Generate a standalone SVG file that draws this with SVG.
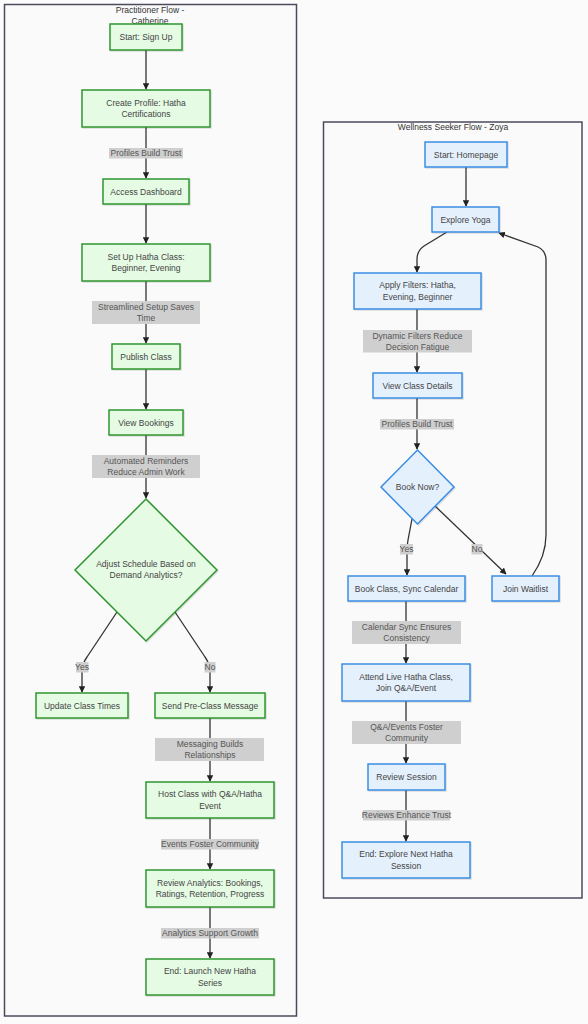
<svg xmlns="http://www.w3.org/2000/svg" width="588" height="1024" viewBox="0 0 588 1024">
<defs>
<style>
text{font-family:"Liberation Sans",Arial,sans-serif;font-size:8.5px;fill:#444;text-anchor:middle;dominant-baseline:central}
.cl{fill:#fafafa;stroke:#4b4b5e;stroke-width:1.5}
.ct{fill:#333}
.g{fill:#e6fbe4;stroke:#2f962f;stroke-width:1.5}
.b{fill:#e4f0fc;stroke:#3b8de3;stroke-width:1.5}
.e{fill:none;stroke:#333;stroke-width:1.3}
.lb{fill:#cfcfcf}
.lt{fill:#555}
</style>
<marker id="ah" viewBox="0 0 10 10" refX="9" refY="5" markerWidth="5" markerHeight="5" orient="auto">
<path d="M0,0 L10,5 L0,10 z" fill="#222"/>
</marker>
<filter id="sh" x="-10%" y="-10%" width="130%" height="140%">
<feDropShadow dx="1" dy="1" stdDeviation="0.6" flood-color="#000" flood-opacity="0.12"/>
</filter>
</defs>
<rect width="588" height="1024" fill="#fbfbfb"/>

<g id="cluster-practitioner">
<rect class="cl" x="4.5" y="4.5" width="292" height="1011.5"/>
<text class="ct" x="150" y="10">Practitioner Flow -</text>
<text class="ct" x="150" y="21">Catherine</text>
</g>
<g id="cluster-seeker">
<rect class="cl" x="323.5" y="122" width="258.5" height="776"/>
<text class="ct" x="453" y="127">Wellness Seeker Flow - Zoya</text>
</g>

<g id="connectors">
<path class="e" d="M146,50 L146,89" marker-end="url(#ah)"/>
<path class="e" d="M146,127 L146,178" marker-end="url(#ah)"/>
<path class="e" d="M146,204 L146,243" marker-end="url(#ah)"/>
<path class="e" d="M146,281 L146,343" marker-end="url(#ah)"/>
<path class="e" d="M146,369 L146,409" marker-end="url(#ah)"/>
<path class="e" d="M146,435 L146,498" marker-end="url(#ah)"/>
<path class="e" d="M117,612 L87,657 Q82,664 82,672 L82,692" marker-end="url(#ah)"/>
<path class="e" d="M175,612 L205,657 Q210,664 210,672 L210,692" marker-end="url(#ah)"/>
<path class="e" d="M210,718 L210,781" marker-end="url(#ah)"/>
<path class="e" d="M210,818 L210,869" marker-end="url(#ah)"/>
<path class="e" d="M210,907 L210,958" marker-end="url(#ah)"/>

<path class="e" d="M466,167 L466,206" marker-end="url(#ah)"/>
<path class="e" d="M447,232 L424,246 Q417,251 417,259 L417,272" marker-end="url(#ah)"/>
<path class="e" d="M417,309 L417,372" marker-end="url(#ah)"/>
<path class="e" d="M417,398 L417,449" marker-end="url(#ah)"/>
<path class="e" d="M412,519 L408,540 Q407,545 407,552 L407,575" marker-end="url(#ah)"/>
<path class="e" d="M435,506 L506,574" marker-end="url(#ah)"/>
<path class="e" d="M532,576 Q546,556 546,535 L546,260 Q546,251 538,247 L499,233" marker-end="url(#ah)"/>
<path class="e" d="M406,601 L406,663" marker-end="url(#ah)"/>
<path class="e" d="M406,701 L406,763" marker-end="url(#ah)"/>
<path class="e" d="M406,790 L406,841" marker-end="url(#ah)"/>
</g>

<g id="edge-labels">
<rect class="lb" x="109" y="148" width="74" height="10.5"/><text class="lt" x="146" y="153.3">Profiles Build Trust</text>
<rect class="lb" x="92" y="301" width="108" height="23"/><text class="lt" x="146" y="307">Streamlined Setup Saves</text><text class="lt" x="146" y="318.3">Time</text>
<rect class="lb" x="92" y="455" width="108" height="23"/><text class="lt" x="146" y="461">Automated Reminders</text><text class="lt" x="146" y="472.3">Reduce Admin Work</text>
<rect class="lb" x="76" y="662" width="12.5" height="10.5"/><text class="lt" x="82" y="667.3">Yes</text>
<rect class="lb" x="204.5" y="662" width="11" height="10.5"/><text class="lt" x="210" y="667.3">No</text>
<rect class="lb" x="155" y="738" width="109" height="23"/><text class="lt" x="210" y="744">Messaging Builds</text><text class="lt" x="210" y="755.3">Relationships</text>
<rect class="lb" x="161" y="839" width="98" height="10.5"/><text class="lt" x="210" y="844.3">Events Foster Community</text>
<rect class="lb" x="161" y="928" width="98" height="10.5"/><text class="lt" x="210" y="933.3">Analytics Support Growth</text>

<rect class="lb" x="363" y="330" width="109" height="22.5"/><text class="lt" x="417.5" y="335.5">Dynamic Filters Reduce</text><text class="lt" x="417.5" y="346.8">Decision Fatigue</text>
<rect class="lb" x="380" y="419" width="74" height="10.5"/><text class="lt" x="417" y="424.3">Profiles Build Trust</text>
<rect class="lb" x="400" y="544" width="13" height="10.5"/><text class="lt" x="406.5" y="549.3">Yes</text>
<rect class="lb" x="471.5" y="544" width="11" height="10.5"/><text class="lt" x="477" y="549.3">No</text>
<rect class="lb" x="352" y="621" width="109" height="23"/><text class="lt" x="406.5" y="627">Calendar Sync Ensures</text><text class="lt" x="406.5" y="638.3">Consistency</text>
<rect class="lb" x="352" y="721" width="109" height="23"/><text class="lt" x="406.5" y="727">Q&amp;A/Events Foster</text><text class="lt" x="406.5" y="738.3">Community</text>
<rect class="lb" x="363" y="810" width="87" height="10.5"/><text class="lt" x="406.5" y="815.3">Reviews Enhance Trust</text>
</g>

<g id="start-signup"><rect class="g" filter="url(#sh)" x="110" y="24" width="72" height="26"/><text x="146" y="37">Start: Sign Up</text></g>
<g id="create-profile"><rect class="g" filter="url(#sh)" x="82" y="90" width="128" height="37"/><text x="146" y="102.5">Create Profile: Hatha</text><text x="146" y="113.8">Certifications</text></g>
<g id="access-dashboard"><rect class="g" filter="url(#sh)" x="103" y="179" width="86" height="25"/><text x="146" y="191.5">Access Dashboard</text></g>
<g id="setup-class"><rect class="g" filter="url(#sh)" x="82" y="244" width="128" height="37"/><text x="146" y="256.5">Set Up Hatha Class:</text><text x="146" y="267.8">Beginner, Evening</text></g>
<g id="publish-class"><rect class="g" filter="url(#sh)" x="112" y="344" width="68" height="25"/><text x="146" y="356.5">Publish Class</text></g>
<g id="view-bookings"><rect class="g" filter="url(#sh)" x="109" y="410" width="74" height="25"/><text x="146" y="422.5">View Bookings</text></g>
<g id="adjust-schedule"><path class="g" filter="url(#sh)" d="M146,499 L217,570 L146,641 L75,570 Z"/><text x="146" y="564">Adjust Schedule Based on</text><text x="146" y="575.3">Demand Analytics?</text></g>
<g id="update-times"><rect class="g" filter="url(#sh)" x="36" y="693" width="92" height="25"/><text x="82" y="705.5">Update Class Times</text></g>
<g id="send-message"><rect class="g" filter="url(#sh)" x="155" y="693" width="110" height="25"/><text x="210" y="705.5">Send Pre-Class Message</text></g>
<g id="host-class"><rect class="g" filter="url(#sh)" x="146" y="782" width="128" height="36"/><text x="210" y="794.3">Host Class with Q&amp;A/Hatha</text><text x="210" y="805.6">Event</text></g>
<g id="review-analytics"><rect class="g" filter="url(#sh)" x="146" y="870" width="128" height="37"/><text x="210" y="882.5">Review Analytics: Bookings,</text><text x="210" y="893.8">Ratings, Retention, Progress</text></g>
<g id="end-launch"><rect class="g" filter="url(#sh)" x="146" y="959" width="128" height="36"/><text x="210" y="971.3">End: Launch New Hatha</text><text x="210" y="982.6">Series</text></g>

<g id="start-homepage"><rect class="b" filter="url(#sh)" x="425" y="142" width="82" height="25"/><text x="466" y="154.5">Start: Homepage</text></g>
<g id="explore-yoga"><rect class="b" filter="url(#sh)" x="432" y="207" width="67" height="25"/><text x="465.5" y="219.5">Explore Yoga</text></g>
<g id="apply-filters"><rect class="b" filter="url(#sh)" x="354" y="273" width="127" height="36"/><text x="417.5" y="285.3">Apply Filters: Hatha,</text><text x="417.5" y="296.6">Evening, Beginner</text></g>
<g id="view-details"><rect class="b" filter="url(#sh)" x="373" y="373" width="89" height="25"/><text x="417.5" y="385.5">View Class Details</text></g>
<g id="book-now"><path class="b" filter="url(#sh)" d="M417.5,450 L454,487 L417.5,524 L381,487 Z"/><text x="417.5" y="487">Book Now?</text></g>
<g id="book-class"><rect class="b" filter="url(#sh)" x="348" y="576" width="117" height="25"/><text x="406.5" y="588.5">Book Class, Sync Calendar</text></g>
<g id="join-waitlist"><rect class="b" filter="url(#sh)" x="492" y="576" width="67" height="25"/><text x="525.5" y="588.5">Join Waitlist</text></g>
<g id="attend-class"><rect class="b" filter="url(#sh)" x="342" y="664" width="128" height="37"/><text x="406" y="676.5">Attend Live Hatha Class,</text><text x="406" y="687.8">Join Q&amp;A/Event</text></g>
<g id="review-session"><rect class="b" filter="url(#sh)" x="368" y="764" width="77" height="26"/><text x="406.5" y="777">Review Session</text></g>
<g id="end-explore"><rect class="b" filter="url(#sh)" x="342" y="842" width="128" height="36"/><text x="406" y="854.3">End: Explore Next Hatha</text><text x="406" y="865.6">Session</text></g>
</svg>
